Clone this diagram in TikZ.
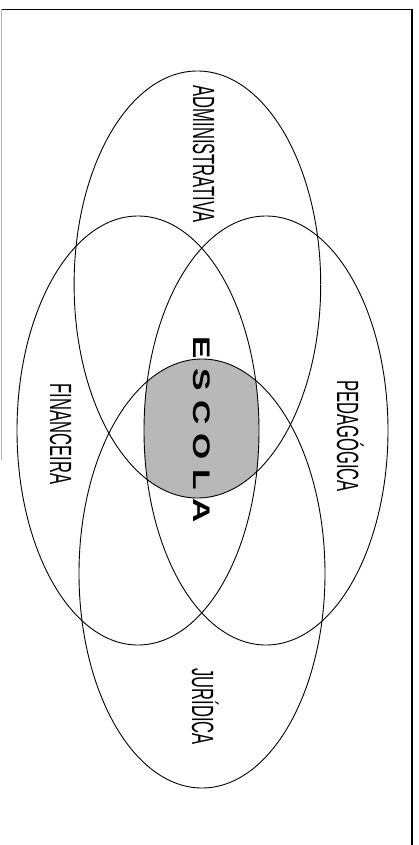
\documentclass[tikz,border=0pt]{standalone}
\usepackage{fontspec}
\usepackage{graphicx}
\newfontfamily\lblfont{Liberation Sans}
\newcommand\vennlbl[1]{\scalebox{0.54}[1]{\fontsize{30.7}{31}\lblfont #1}}
\newcommand\escgap{\hspace{6.6pt}}
\tikzset{
  venn/.style={draw=black, line width=0.9pt},
  lbl/.style={rotate=-90, anchor=base, inner sep=0pt, text=black},
}
\begin{document}
\begin{tikzpicture}[x=1pt, y=-1pt]
  \useasboundingbox (0,0) rectangle (419,845);
  % frame
  \draw[line width=1.4pt] (1,9.5) -- (412,9.5) -- (412,845);
  \draw[black!30, line width=0.8pt] (1,9.5) -- (1,460);
  % shaded intersection
  \begin{scope}
    \clip (197.4,284.5) ellipse [x radius=123.3pt, y radius=213.5pt];
    \clip (202,573.5) ellipse [x radius=123pt, y radius=214.5pt];
    \clip (138,430.5) ellipse [x radius=121pt, y radius=214.5pt];
    \clip (266,430.5) ellipse [x radius=122pt, y radius=214.5pt];
    \fill[black!28] (0,0) rectangle (419,845);
  \end{scope}
  % ellipses
  \draw[venn] (197.4,284.5) ellipse [x radius=123.3pt, y radius=213.5pt];
  \draw[venn] (138,430.5) ellipse [x radius=121pt, y radius=214.5pt];
  \draw[venn] (266,430.5) ellipse [x radius=122pt, y radius=214.5pt];
  \draw[venn] (202,573.5) ellipse [x radius=123pt, y radius=214.5pt];
  % labels
  \node[lbl] (adm) at (193,154) {\vennlbl{ADMINISTRATIVA}};
  \node[lbl] (fin) at (50,434) {\vennlbl{FINANCEIRA}};
  \node[lbl] (ped) at (337,436) {\vennlbl{PEDAGÓGICA}};
  \node[lbl] (jur) at (192,706.5) {\vennlbl{JURÍDICA}};
  \node[lbl] (esc) at (193,430) {\scalebox{1.4}[1]{\fontsize{24}{24}\lblfont\bfseries E\escgap S\escgap C\escgap O\escgap L\escgap A}};
\end{tikzpicture}
\end{document}
